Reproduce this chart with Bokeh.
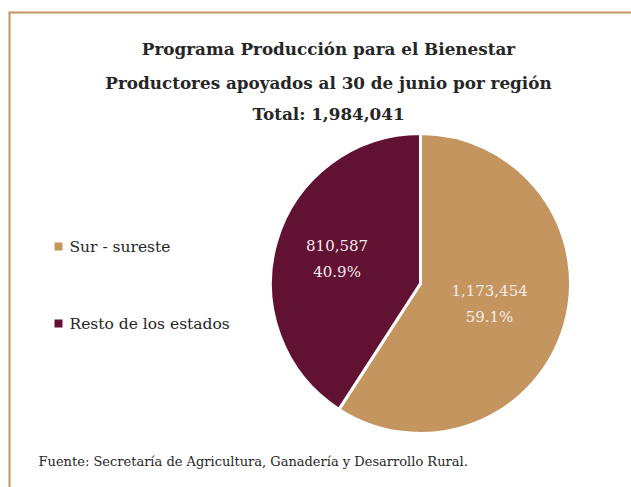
import math
from bokeh.plotting import figure
from bokeh.models import ColumnDataSource
from bokeh.core.properties import value
from bokeh.embed import file_html
from bokeh.resources import INLINE

categories = ["Sur - sureste", "Resto de los estados"]
values = [1173454, 810587]
colors = ["#C4955E", "#611132"]
title_lines = ["Programa Producción para el Bienestar",
               "Productores apoyados al 30 de junio por región",
               "Total: 1,984,041"]
source_text = "Fuente: Secretaría de Agricultura,  Ganadería y Desarrollo Rural."

W, H = 631, 487
p = figure(width=W, height=H, x_range=(0, W), y_range=(0, H),
           output_backend="svg", toolbar_location=None, min_border=0)
p.axis.visible = False
p.grid.visible = False
p.outline_line_color = None
p.background_fill_color = "white"

# frame border (left and top)
p.segment(x0=[9, 8], y0=[0, 475], x1=[9, W], y1=[475, 475],
          line_color="#C4955E", line_width=2)

total = sum(values)
cx, cy, R = 420, 204, 150
starts, ends, lx, ly, lab1, lab2 = [], [], [], [], [], []
cum = 0.0
for v in values:
    frac = v / total
    a_top = 90.0 - cum * 360.0
    a_bot = 90.0 - (cum + frac) * 360.0
    starts.append(math.radians(a_bot))
    ends.append(math.radians(a_top))
    mid = math.radians((a_top + a_bot) / 2)
    rf = 0.48 if frac > 0.5 else 0.58
    lx.append(cx + rf * R * math.cos(mid))
    ly.append(cy + rf * R * math.sin(mid))
    lab1.append(f"{v:,}")
    lab2.append(f"{frac*100:.1f}%")
    cum += frac

src = ColumnDataSource(dict(start=starts, end=ends, color=colors,
                            x=[cx]*len(values), y=[cy]*len(values)))
p.wedge(x="x", y="y", radius=R, radius_units="screen", start_angle="start",
        end_angle="end", fill_color="color", line_color="white", line_width=3,
        source=src)

FONT = "DejaVu Serif"
p.text(x=lx, y=[v + 13 for v in ly], text=lab1, text_color="#F4ECEC",
       text_font=value(FONT), text_font_size="15px", text_align="center",
       text_baseline="middle")
p.text(x=lx, y=[v - 13 for v in ly], text=lab2, text_color="#F4ECEC",
       text_font=value(FONT), text_font_size="15px", text_align="center",
       text_baseline="middle")

# title
title_y = [439, 405, 374]
for t, ty in zip(title_lines, title_y):
    p.text(x=[328], y=[ty], text=[t], text_color="#262626",
           text_font=value(FONT), text_font_size="16.8px", text_font_style="bold",
           text_align="center", text_baseline="middle")

# legend
leg_y = [241, 164]
p.scatter(x=[58, 58], y=leg_y, marker="square", size=8, fill_color=colors,
          line_color=None)
p.text(x=[69, 69], y=leg_y, text=categories, text_color="#262626",
       text_font=value(FONT), text_font_size="15.5px", text_baseline="middle")

# source note
p.text(x=[38], y=[26], text=[source_text], text_color="#262626",
       text_font=value(FONT), text_font_size="13px", text_baseline="middle")

open("out.html", "w").write(file_html(p, INLINE))
